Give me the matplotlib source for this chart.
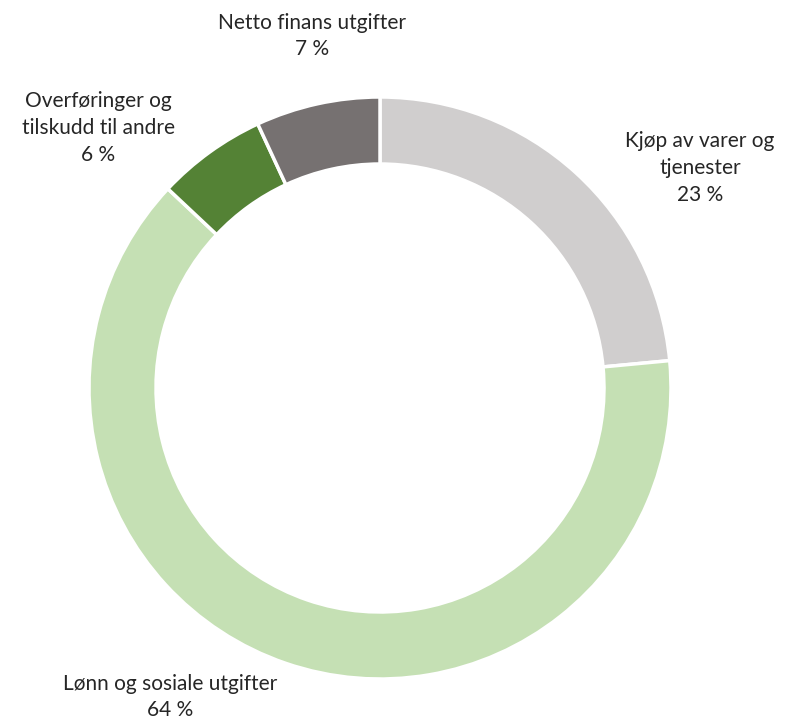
import matplotlib
matplotlib.use("Agg")
import matplotlib.pyplot as plt

categories = ["Kjøp av varer og\ntjenester", "Lønn og sosiale utgifter",
              "Overføringer og\ntilskudd til andre", "Netto finans utgifter"]
values = [23.5, 63.5, 6.1, 6.9]
pct_labels = ["23 %", "64 %", "6 %", "7 %"]
colors = ["#D0CECE", "#C5E0B4", "#548235", "#767171"]

W, H = 790, 719
fig = plt.figure(figsize=(W / 100, H / 100), dpi=100)
ax = fig.add_axes([0, 0, 1, 1])

cx, cy, R, w = 380, -388, 291, 67
ax.pie(values, colors=colors, startangle=90, counterclock=False,
       center=(cx, cy), radius=R, frame=True,
       wedgeprops=dict(width=w, edgecolor="white", linewidth=2.5))
ax.set_xlim(0, W)
ax.set_ylim(-H, 0)
ax.set_aspect("equal")
ax.axis("off")

label_pos = [(700, -168), (170, -697), (98, -128), (312, -36)]
font = dict(family="Lato", fontsize=15, color="#262626",
            ha="center", va="center", linespacing=1.42)
for (x, y), cat, p in zip(label_pos, categories, pct_labels):
    ax.text(x, y, cat + "\n" + p, **font)

fig.savefig("out.png", dpi=100, facecolor="white")
